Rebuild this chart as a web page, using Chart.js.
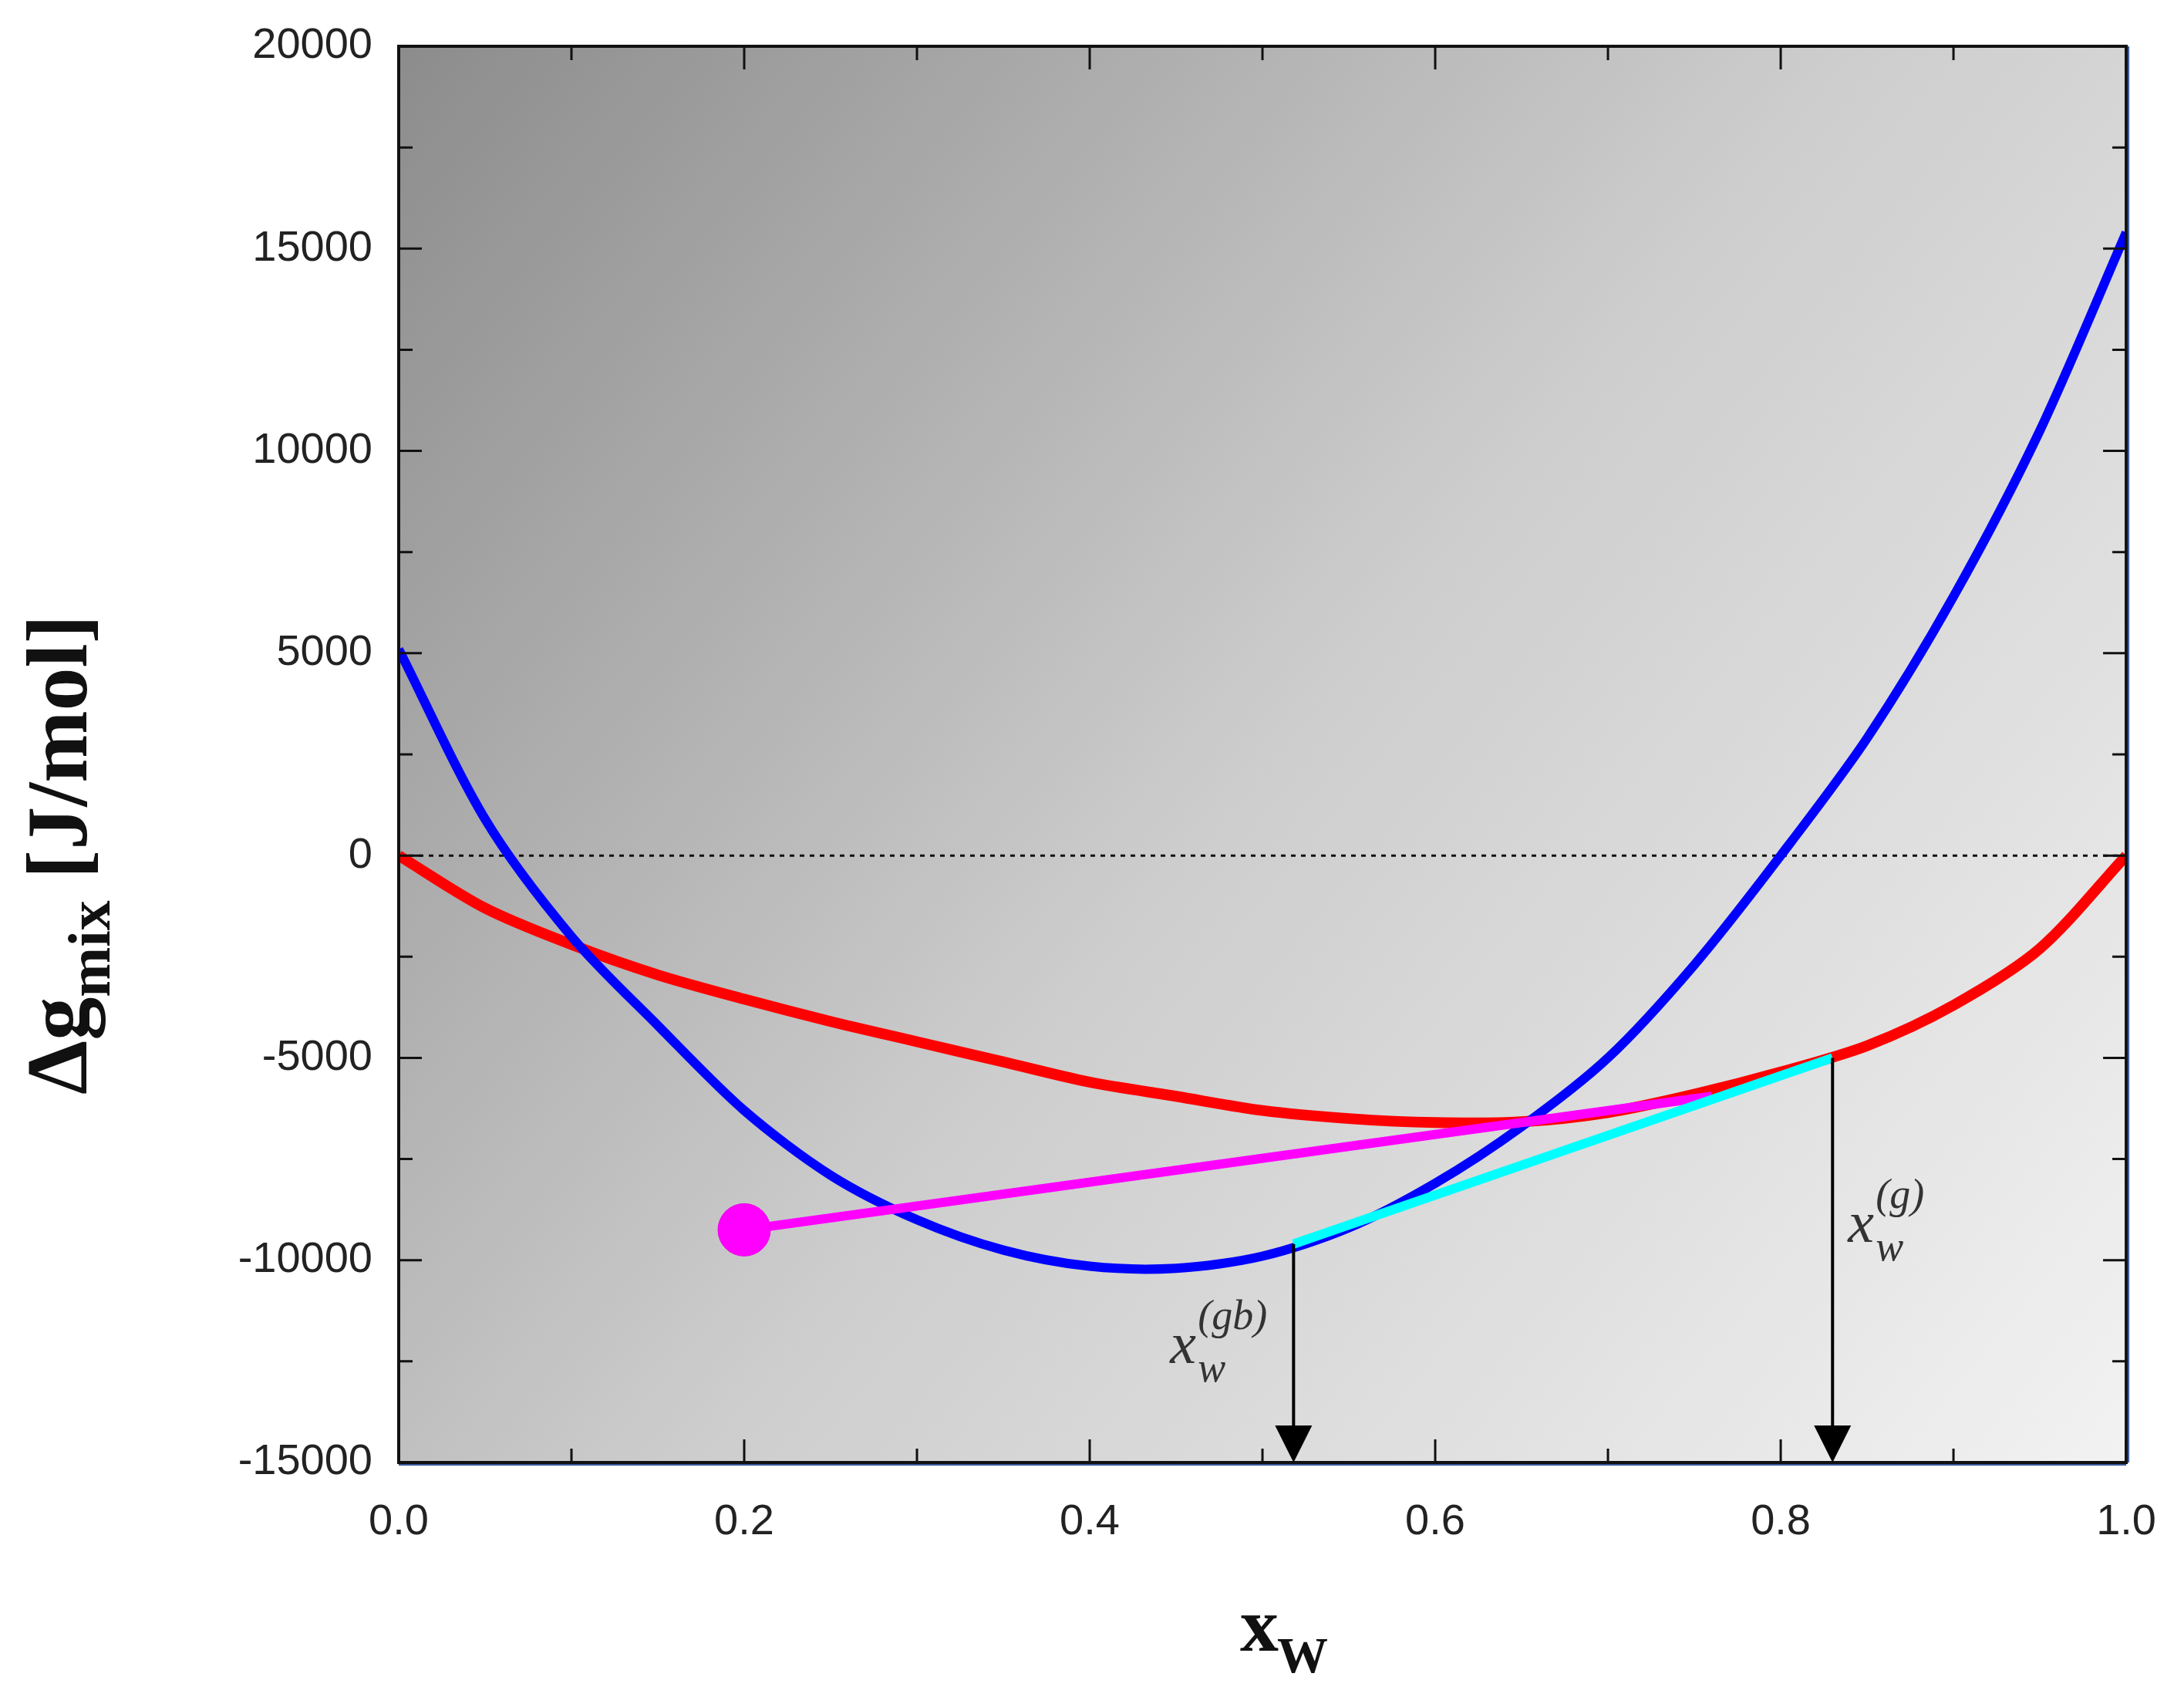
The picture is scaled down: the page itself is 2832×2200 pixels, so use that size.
<!DOCTYPE html>
<html><head><meta charset="utf-8">
<script src="https://cdn.jsdelivr.net/npm/chart.js@4.4.0/dist/chart.umd.min.js"></script>
<style>html,body{margin:0;padding:0;background:#fff}canvas{display:block}</style>
</head><body>
<div style="width:2832px;height:2200px"><canvas id="c"></canvas></div>
<script>
const xGrid = [0,0.05,0.1,0.15,0.2,0.25,0.3,0.35,0.4,0.45,0.5,0.55,0.6,0.65,0.7,0.75,0.8,0.85,0.9,0.95,1.0];
const blueVals = [5100,900,-2000,-4200,-6300,-7900,-9000,-9750,-10150,-10200,-9900,-9200,-8100,-6700,-5000,-2700,0,2900,6400,10500,15400];
const redVals = [0,-1300,-2200,-2950,-3550,-4100,-4600,-5100,-5600,-5950,-6300,-6500,-6600,-6580,-6350,-5900,-5350,-4700,-3700,-2300,0];
const magentaX = [0.2,0.76];
const magentaY = [-9250,-5950];
const cyanX = [0.518,0.83];
const cyanY = [-9600,-5000];
const arrowX = [0.518,0.83];
const arrowTopY = [-9600,-5000];
const arrowLabels = ["gb","g"];
const xTicks = [0,0.2,0.4,0.6,0.8,1.0];
const yTicks = [-15000,-10000,-5000,0,5000,10000,15000,20000];

const pts = (xs, ys) => xs.map((x,i)=>({x, y: ys[i]}));

const bgPlugin = {
  id:'bg',
  beforeDatasetsDraw(ch){
    const a=ch.chartArea, c=ch.ctx;
    const g=c.createLinearGradient(a.left,a.top,a.right,a.bottom);
    g.addColorStop(0,'#8c8c8c'); g.addColorStop(0.5,'#cdcdcd'); g.addColorStop(1,'#f2f2f2');
    c.save(); c.fillStyle=g; c.fillRect(a.left,a.top,a.right-a.left,a.bottom-a.top);
    const y0=ch.scales.y.getPixelForValue(0);
    c.strokeStyle='#111'; c.lineWidth=3; c.setLineDash([6,7]);
    c.beginPath(); c.moveTo(a.left,y0); c.lineTo(a.right,y0); c.stroke();
    c.restore();
  },
  afterDraw(ch){
    const a=ch.chartArea, c=ch.ctx, xs=ch.scales.x, ys=ch.scales.y;
    c.save();
    c.strokeStyle='#111'; c.lineWidth=4;
    c.strokeRect(a.left,a.top,a.right-a.left,a.bottom-a.top);
    c.strokeStyle='#3a5a9a'; c.lineWidth=2;
    c.beginPath(); c.moveTo(a.right+3,a.top); c.lineTo(a.right+3,a.bottom); c.moveTo(a.left,a.bottom+3); c.lineTo(a.right,a.bottom+3); c.stroke();
    c.strokeStyle='#111'; c.lineWidth=3;
    c.beginPath();
    for(let i=0;i<=10;i++){
      const v=i/10, p=xs.getPixelForValue(v), L=(i%2==0)?30:18;
      c.moveTo(p,a.bottom); c.lineTo(p,a.bottom-L);
      c.moveTo(p,a.top); c.lineTo(p,a.top+L);
    }
    for(let v=-15000; v<=20000; v+=2500){
      const p=ys.getPixelForValue(v), L=(v%5000==0)?30:18;
      c.moveTo(a.left,p); c.lineTo(a.left+L,p);
      c.moveTo(a.right,p); c.lineTo(a.right-L,p);
    }
    c.stroke();
    arrowX.forEach((xv,i)=>{
      const px=xs.getPixelForValue(xv), top=ys.getPixelForValue(arrowTopY[i]), bot=a.bottom;
      c.strokeStyle='#000'; c.fillStyle='#000'; c.lineWidth=4;
      c.beginPath(); c.moveTo(px,top); c.lineTo(px,bot-48); c.stroke();
      c.beginPath(); c.moveTo(px-24,bot-48); c.lineTo(px+24,bot-48); c.lineTo(px,bot); c.closePath(); c.fill();
    });
    c.fillStyle='#333';
    const lab=(x,y,sup)=>{
      c.font='italic 76px "Liberation Serif"'; c.textAlign='left'; c.textBaseline='alphabetic';
      c.fillText('x',x,y);
      c.font='italic 54px "Liberation Serif"';
      c.fillText('w',x+36,y+24);
      c.fillText('('+sup+')',x+36,y-44);
    };
    lab(xs.getPixelForValue(0.518)-160, ys.getPixelForValue(-12550), 'gb');
    lab(xs.getPixelForValue(0.83)+20, ys.getPixelForValue(-9550), 'g');
    c.fillStyle='#111';
    c.save(); c.translate(112, ys.getPixelForValue(2500)+170); c.rotate(-Math.PI/2);
    c.textBaseline='alphabetic'; c.textAlign='left';
    c.font='bold 112px "Liberation Serif"';
    const w1=c.measureText('Δg').width;
    c.font='bold 78px "Liberation Serif"';
    const w2=c.measureText('mix').width;
    c.font='bold 112px "Liberation Serif"';
    const w3=c.measureText(' [J/mol]').width;
    let sx=-(w1+w2+w3)/2+40;
    c.fillText('Δg',sx,0); sx+=w1;
    c.font='bold 78px "Liberation Serif"'; c.fillText('mix',sx,30); sx+=w2;
    c.font='bold 112px "Liberation Serif"'; c.fillText(' [J/mol]',sx,0);
    c.restore();
    c.font='bold 100px "Liberation Serif"'; c.textAlign='left';
    const cx=xs.getPixelForValue(0.5)+15;
    c.fillText('x',cx-44,2140);
    c.font='bold 66px "Liberation Serif"'; c.fillText('W',cx+4,2168);
    c.restore();
  }
};

new Chart(document.getElementById('c'),{
  type:'scatter',
  data:{datasets:[
    {data:pts(xGrid,redVals),showLine:true,borderColor:'#ff0000',borderWidth:14,pointRadius:0,tension:0.3,order:3},
    {data:pts(xGrid,blueVals),showLine:true,borderColor:'#0000ff',borderWidth:12,pointRadius:0,tension:0.3,order:2},
    {data:pts(magentaX,magentaY),showLine:true,borderColor:'#ff00ff',borderWidth:12,pointRadius:0,order:1},
    {data:pts(cyanX,cyanY),showLine:true,borderColor:'#00ffff',borderWidth:12,pointRadius:0,order:0},
    {data:[{x:magentaX[0],y:magentaY[0]}],pointRadius:34,pointBackgroundColor:'#ff00ff',pointBorderColor:'#ee00ee',showLine:false,order:0}
  ]},
  options:{
    responsive:true,maintainAspectRatio:false,animation:false,devicePixelRatio:1,
    layout:{padding:{top:60,right:60,left:0,bottom:0}},
    plugins:{legend:{display:false},tooltip:{enabled:false}},
    scales:{
      x:{type:'linear',min:0,max:1,
        afterFit(s){s.height=304;},
        afterBuildTicks(s){s.ticks=xTicks.map(v=>({value:v}));},
        grid:{display:false},border:{display:false},
        ticks:{color:'#222',font:{family:'Liberation Sans',size:56},padding:36,callback:v=>v.toFixed(1),maxRotation:0}},
      y:{type:'linear',min:-15000,max:20000,
        afterFit(s){s.width=517;},
        afterBuildTicks(s){s.ticks=yTicks.map(v=>({value:v}));},
        grid:{display:false},border:{display:false},
        ticks:{color:'#222',font:{family:'Liberation Sans',size:56},padding:26,callback:v=>String(v)}}
    }
  },
  plugins:[bgPlugin]
});
</script>
</body></html>
